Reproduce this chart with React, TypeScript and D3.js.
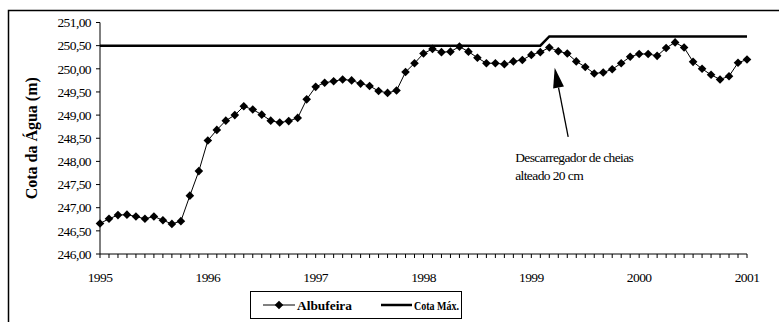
import React from "react";
import * as d3 from "d3";

const yearLabels = ["1995", "1996", "1997", "1998", "1999", "2000", "2001"];
const yTicks = [246, 246.5, 247, 247.5, 248, 248.5, 249, 249.5, 250, 250.5, 251];

// Monthly reservoir level, Jan 1995 .. Jan 2001
const albufeira = [
  246.66, 246.76, 246.84, 246.85, 246.81, 246.76, 246.81, 246.73, 246.65, 246.71, 247.26, 247.79,
  248.45, 248.68, 248.88, 249.0, 249.19, 249.12, 249.01, 248.88, 248.84, 248.87, 248.94, 249.34,
  249.61, 249.7, 249.73, 249.77, 249.75, 249.68, 249.63, 249.52, 249.48, 249.53, 249.93, 250.12,
  250.33, 250.43, 250.36, 250.37, 250.48, 250.37, 250.24, 250.12, 250.12, 250.1, 250.16, 250.19,
  250.3, 250.36, 250.46, 250.38, 250.33, 250.16, 250.04, 249.9, 249.92, 249.99, 250.12, 250.26,
  250.32, 250.32, 250.28, 250.45, 250.57, 250.46, 250.15, 250.0, 249.87, 249.77, 249.84, 250.13,
  250.2,
];

// Max level: 250.50 until Feb 1999, raised by 20 cm from Mar 1999
const cotaMaxIdx = [0, 49, 50, 72];
const cotaMaxVal = [250.5, 250.5, 250.7, 250.7];

const annotationLines = ["Descarregador de cheias", "alteado 20 cm"];

export default function App() {
  const W = 779;
  const H = 322;
  const x = d3.scaleLinear().domain([0, 72]).range([100, 747]);
  const y = d3.scaleLinear().domain([246, 251]).range([254, 22.5]);
  const fmt = (v: number) => d3.format(".2f")(v).replace(".", ",");

  const line = d3
    .line<number>()
    .x((_, i) => x(i))
    .y((d) => y(d));
  const maxLine = d3
    .line<number>()
    .x((_, i) => x(cotaMaxIdx[i]))
    .y((d) => y(d));

  const months = d3.range(0, 73);
  const diamond = "M0,-4.3L4.3,0L0,4.3L-4.3,0Z";

  // arrow
  const tail = [x(52.1), y(248.53)];
  const tip = [x(50.6), y(250.02)];
  const ang = Math.atan2(tip[1] - tail[1], tip[0] - tail[0]);
  const hl = 20;
  const hw = 5.5;
  const bx = tip[0] - hl * Math.cos(ang);
  const by = tip[1] - hl * Math.sin(ang);
  const px = -Math.sin(ang) * hw;
  const py = Math.cos(ang) * hw;

  const serif = '"Times New Roman", "Liberation Serif", Tinos, "Noto Serif", "DejaVu Serif", Times, serif';
  const ts: React.CSSProperties = { fontFamily: serif };

  return (
    <svg
      width={W}
      height={H}
      style={{ position: "absolute", left: 0, top: 0, fontFamily: serif }}
    >
      <rect x={0} y={0} width={W} height={H} fill="#fff" />
      {/* outer frame */}
      <rect x={8.5} y={10.5} width={W + 20} height={H + 20} fill="none" stroke="#000" strokeWidth={1.5} />

      {/* y axis */}
      <line x1={x(0)} x2={x(0)} y1={y(251)} y2={y(246)} stroke="#000" strokeWidth={1} />
      {yTicks.map((t) => (
        <g key={t}>
          <line x1={x(0) - 4} x2={x(0)} y1={y(t)} y2={y(t)} stroke="#000" />
          <text
            x={91}
            y={y(t)}
            dy="0.35em"
            textAnchor="end"
            fontSize={13.5}
            letterSpacing={-0.6}
            style={ts}
          >
            {fmt(t)}
          </text>
        </g>
      ))}

      {/* x axis */}
      <line x1={x(0)} x2={x(72)} y1={y(246)} y2={y(246)} stroke="#000" />
      {months.map((m) => (
        <line key={m} x1={x(m)} x2={x(m)} y1={y(246)} y2={y(246) + 4} stroke="#000" />
      ))}
      {yearLabels.map((l, i) => (
        <text
          key={l}
          x={x(i * 12)}
          y={277}
          dy="0.35em"
          textAnchor="middle"
          fontSize={13.5}
          letterSpacing={-0.6}
          style={ts}
        >
          {l}
        </text>
      ))}

      {/* y title */}
      <text
        transform={`translate(31,${(y(246) + y(251)) / 2}) rotate(-90)`}
        textAnchor="middle"
        dy="0.35em"
        fontSize={16}
        fontWeight="bold"
        style={ts}
      >
        Cota da Água (m)
      </text>

      {/* Cota Máx */}
      <path d={maxLine(cotaMaxVal) || ""} fill="none" stroke="#000" strokeWidth={2.5} />

      {/* Albufeira */}
      <path d={line(albufeira) || ""} fill="none" stroke="#000" strokeWidth={1} />
      {albufeira.map((v, i) => (
        <path key={i} d={diamond} transform={`translate(${x(i)},${y(v)})`} fill="#000" />
      ))}

      {/* annotation */}
      <line x1={tail[0]} y1={tail[1]} x2={bx} y2={by} stroke="#000" strokeWidth={1.3} />
      <path
        d={`M${tip[0]},${tip[1]}L${bx + px},${by + py}L${bx - px},${by - py}Z`}
        fill="#000"
      />
      {annotationLines.map((t, i) => (
        <text
          key={t}
          x={x(46.2)}
          y={157 + i * 18.5}
          dy="0.35em"
          fontSize={13.5}
          letterSpacing={-0.6}
          style={ts}
        >
          {t}
        </text>
      ))}

      {/* legend */}
      <rect x={250.5} y={291.5} width={211} height={27} fill="#fff" stroke="#000" strokeWidth={1} />
      <line x1={263} x2={295} y1={305} y2={305} stroke="#000" strokeWidth={1} />
      <path d={diamond} transform="translate(279,305)" fill="#000" />
      <text
        x={297}
        y={305}
        dy="0.35em"
        fontSize={13.5}
        fontWeight="bold"
        textLength={55}
        lengthAdjust="spacingAndGlyphs"
        style={ts}
      >
        Albufeira
      </text>
      <line x1={381} x2={412} y1={305} y2={305} stroke="#000" strokeWidth={2.5} />
      <text
        x={414}
        y={305}
        dy="0.35em"
        fontSize={13}
        fontWeight="bold"
        textLength={45}
        lengthAdjust="spacingAndGlyphs"
        style={ts}
      >
        Cota Máx.
      </text>
    </svg>
  );
}
